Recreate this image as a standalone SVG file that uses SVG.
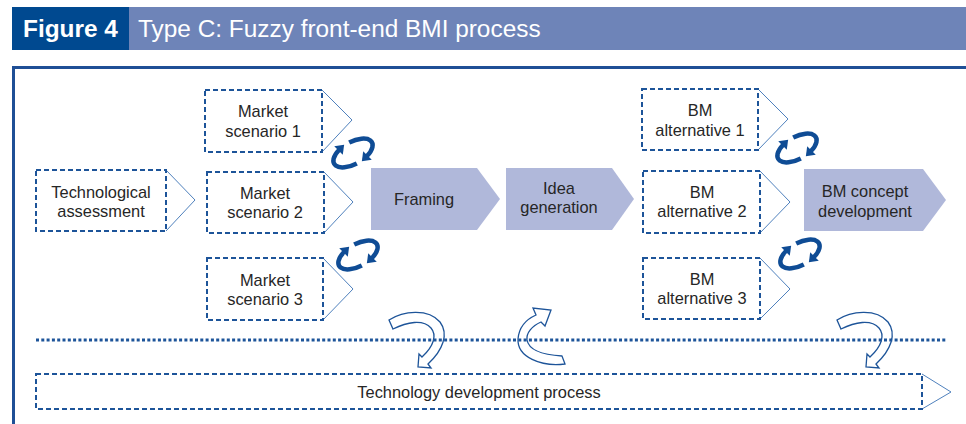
<svg xmlns="http://www.w3.org/2000/svg" width="966" height="424" viewBox="0 0 966 424">
<style>
.t{font-family:"Liberation Sans",Arial,sans-serif;font-size:16.4px;fill:#262626;text-anchor:middle}
.box{fill:#fff;stroke:#1d5499;stroke-width:2;stroke-dasharray:5 3}
.tri{fill:#fff;stroke:#4f81bd;stroke-width:1}
.chev{fill:#b0b8da}
.cyc{fill:none;stroke:#0f4c95;stroke-width:4.5;marker-end:url(#ah)}
.open{fill:none;stroke:#1d5499;stroke-width:1.3}
</style>
<defs>
<marker id="ah" markerUnits="userSpaceOnUse" markerWidth="20" markerHeight="20" refX="1" refY="0" orient="auto" overflow="visible">
<path d="M0,-6 L8,0 L0,6 Z" fill="#0f4c95"/>
</marker>
<g id="cycle">
<path class="cyc" d="M-1.9,10.9 A22,11 0 0 1 -10.3,-9.7"/>
<path class="cyc" d="M1.9,-10.9 A22,11 0 0 1 10.3,9.7"/>
</g>
</defs>
<rect width="966" height="424" fill="#fff"/>
<g id="header">
<rect x="12" y="7" width="117" height="43" fill="#004990"/>
<rect x="129" y="7" width="837" height="43" fill="#6e84b8"/>
<text x="23" y="37" font-family="Liberation Sans,Arial,sans-serif" font-size="24.4" font-weight="bold" fill="#fff">Figure 4</text>
<text x="138" y="37" font-family="Liberation Sans,Arial,sans-serif" font-size="24.4" fill="#fff">Type C: Fuzzy front-end BMI process</text>
</g>
<path id="frame" d="M13.5,424 L13.5,67.5 L966,67.5" fill="none" stroke="#1f4f96" stroke-width="3"/>
<g id="tech-assessment">
<path class="tri" d="M166,170 L195,200 L166,231"/>
<rect class="box" x="36" y="170" width="130" height="61"/>
<text class="t" x="101" y="198">Technological</text>
<text class="t" x="101" y="217">assessment</text>
</g>
<g id="market-1">
<path class="tri" d="M322,90 L352,120 L322,152"/>
<rect class="box" x="205" y="90" width="117" height="62"/>
<text class="t" x="263" y="117">Market</text>
<text class="t" x="263" y="137">scenario 1</text>
</g>
<g id="market-2">
<path class="tri" d="M324,172 L353,202 L324,233"/>
<rect class="box" x="207" y="172" width="117" height="61"/>
<text class="t" x="265" y="199">Market</text>
<text class="t" x="265" y="218">scenario 2</text>
</g>
<g id="market-3">
<path class="tri" d="M323,258 L353,289 L323,320"/>
<rect class="box" x="207" y="258" width="116" height="62"/>
<text class="t" x="265" y="286">Market</text>
<text class="t" x="265" y="305">scenario 3</text>
</g>
<g id="framing">
<path class="chev" d="M371,168 L477,168 L500,199 L477,230 L371,230 Z"/>
<text class="t" x="424" y="205">Framing</text>
</g>
<g id="idea-generation">
<path class="chev" d="M506,168 L612,168 L634,199 L612,230 L506,230 Z"/>
<text class="t" x="559" y="194">Idea</text>
<text class="t" x="559" y="213">generation</text>
</g>
<g id="bm-alt-1">
<path class="tri" d="M758,89 L788,119 L758,150"/>
<rect class="box" x="642" y="89" width="116" height="61"/>
<text class="t" x="700" y="116">BM</text>
<text class="t" x="700" y="136">alternative 1</text>
</g>
<g id="bm-alt-2">
<path class="tri" d="M760,171 L790,202 L760,233"/>
<rect class="box" x="643" y="171" width="117" height="62"/>
<text class="t" x="702" y="198">BM</text>
<text class="t" x="702" y="217">alternative 2</text>
</g>
<g id="bm-alt-3">
<path class="tri" d="M760,258 L790,289 L760,319"/>
<rect class="box" x="643" y="258" width="117" height="61"/>
<text class="t" x="702" y="285">BM</text>
<text class="t" x="702" y="304">alternative 3</text>
</g>
<g id="bm-concept">
<path class="chev" d="M804,169 L923,169 L946,200 L923,231 L804,231 Z"/>
<text class="t" x="865" y="197">BM concept</text>
<text class="t" x="865" y="217">development</text>
</g>
<g id="tech-dev">
<path class="tri" d="M922,374 L951,392 L922,409"/>
<rect class="box" x="36" y="374" width="886" height="35"/>
<text class="t" x="479" y="398">Technology development process</text>
</g>
<g id="connectors">
<line x1="36" y1="340" x2="946" y2="340" stroke="#1d5499" stroke-width="3" stroke-dasharray="3 2.3"/>
<use href="#cycle" transform="translate(353,153) rotate(-30)"/>
<use href="#cycle" transform="translate(358,255) rotate(-30)"/>
<use href="#cycle" transform="translate(797,148) rotate(-30)"/>
<use href="#cycle" transform="translate(800,254) rotate(-30)"/>
<path class="open" d="M389,320 C403,311 428,308 440,322 C449,334 443,350 428,364 L431,368 L418,367 L419,354 L422,357 C434,346 437,335 431,328 C423,319 407,322 393,329 Z"/>
<path class="open" d="M565,364 C541,367 517,357 518,339 C519,327 527,319 536,315 L533,308 L551,310 L545,326 L541,322 C532,326 526,333 527,340 C529,351 545,355 562,356 Z"/>
<path class="open" transform="translate(448,0)" d="M389,320 C403,311 428,308 440,322 C449,334 443,350 428,364 L431,368 L418,367 L419,354 L422,357 C434,346 437,335 431,328 C423,319 407,322 393,329 Z"/>
</g>
</svg>
